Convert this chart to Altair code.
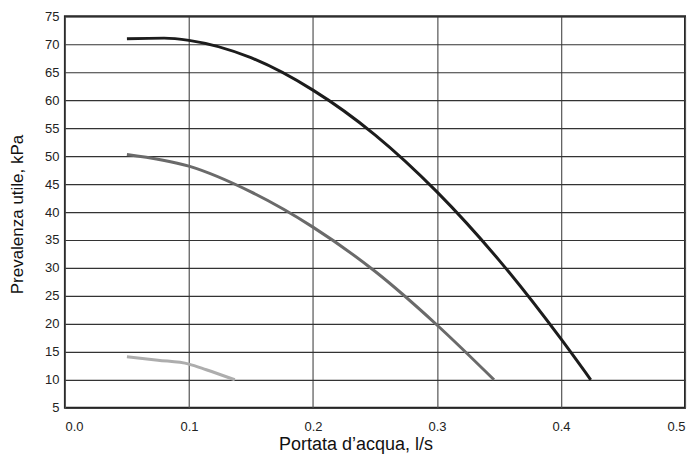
import altair as alt
import pandas as pd

# Curve 1 (dark)
x_high = [0.05, 0.08, 0.1, 0.15, 0.2, 0.25, 0.3, 0.35, 0.4, 0.424]
y_high = [71.0, 71.1, 70.7, 67.6, 61.8, 53.8, 43.6, 31.4, 17.3, 10.0]

# Curve 2 (medium)
x_mid = [0.05, 0.1, 0.15, 0.2, 0.25, 0.3, 0.346]
y_mid = [50.3, 48.2, 43.6, 37.3, 29.4, 19.8, 10.0]

# Curve 3 (light)
x_low = [0.05, 0.075, 0.1, 0.114, 0.137]
y_low = [14.1, 13.5, 12.8, 11.8, 10.0]

x_ticks = [0.0, 0.1, 0.2, 0.3, 0.4, 0.5]
y_ticks = list(range(5, 80, 5))

rows = []
for name, xs, ys in [("high", x_high, y_high), ("mid", x_mid, y_mid), ("low", x_low, y_low)]:
    for i, (a, b) in enumerate(zip(xs, ys)):
        rows.append({"serie": name, "q": a, "p": b, "o": i})
df = pd.DataFrame(rows)

FONT = "Liberation Sans"

chart = alt.Chart(df).mark_line(strokeWidth=3, interpolate="monotone", strokeCap="butt").encode(
    x=alt.X("q:Q",
            scale=alt.Scale(domain=[0, 0.5], nice=False),
            axis=alt.Axis(values=x_ticks, format=".1f", title="Portata d\u2019acqua, l/s",
                          ticks=False, domain=False, labelPadding=13,
                          gridColor="#555555", gridWidth=1.2, gridOpacity=1,
                          titleX=291, titleY=42, titleBaseline="alphabetic",
                          titleFontSize=18)),
    y=alt.Y("p:Q",
            scale=alt.Scale(domain=[5, 75], nice=False, zero=False),
            axis=alt.Axis(values=y_ticks, title="Prevalenza utile, kPa",
                          ticks=False, domain=False, labelPadding=6,
                          gridColor="#333333", gridWidth=1.2, gridOpacity=1,
                          titleX=-47, titleY=198, titleBaseline="middle",
                          titleFontSize=17)),
    color=alt.Color("serie:N",
                    scale=alt.Scale(domain=["high", "mid", "low"],
                                    range=["#1c1c1c", "#6a6a6a", "#adadad"]),
                    legend=None),
    order="o:Q",
).properties(
    width=621, height=392,
    autosize=alt.AutoSizeParams(type="none"),
    padding={"left": 57, "top": 8, "right": 2, "bottom": 46},
).configure_view(
    stroke="#222222", strokeWidth=2
).configure_axis(
    labelFont=FONT, titleFont=FONT, labelFontSize=13,
    labelColor="#222222", titleColor="#111111", titleFontWeight="normal",
)

chart.save("out.html", embed_options={"renderer": "svg", "actions": False})
